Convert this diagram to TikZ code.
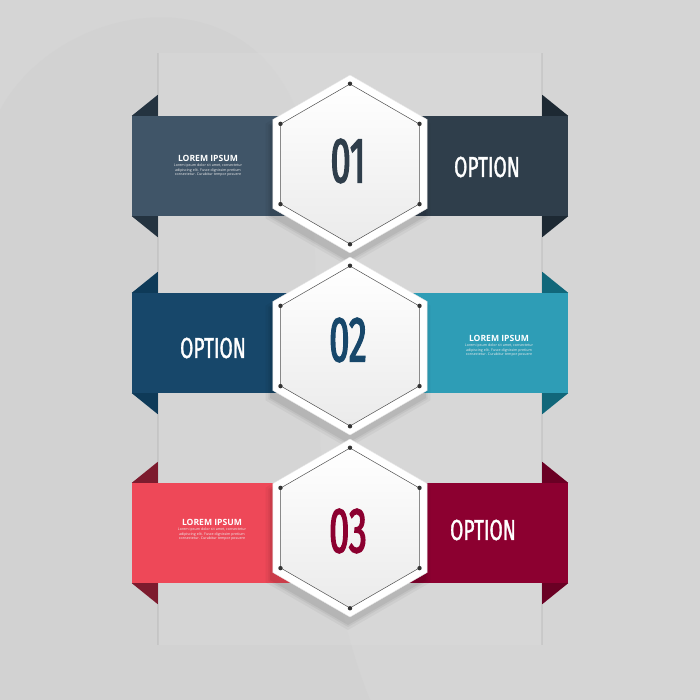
\documentclass[tikz,border=0pt]{standalone}
\usepackage{fontspec}
\setmainfont{Open Sans}
\newfontfamily\optfont[FakeStretch=0.66, FakeBold=1.2]{Fira Sans}
\newfontfamily\numfont[FakeStretch=0.56, FakeBold=2.2]{Fira Sans}
\usetikzlibrary{positioning, shapes.geometric}

% colours
\definecolor{bggray}{HTML}{D5D5D5}
\definecolor{stripgray}{HTML}{D9D9D9}
\definecolor{blobgray}{HTML}{D2D2D2}
\definecolor{slate}{HTML}{405568}
\definecolor{slatedark}{HTML}{2F3E4B}
\definecolor{slatefold}{HTML}{243340}
\definecolor{navy}{HTML}{17476A}
\definecolor{navyfold}{HTML}{0E3A58}
\definecolor{teal}{HTML}{2E9DB6}
\definecolor{tealfold}{HTML}{11677A}
\definecolor{coral}{HTML}{EE4858}
\definecolor{coralfold}{HTML}{7D1B2E}
\definecolor{crimson}{HTML}{8C0030}
\definecolor{crimsonfold}{HTML}{6A0024}
\definecolor{hexline}{HTML}{505050}

\tikzset{
  band/.style={inner sep=0pt, minimum height=100pt, minimum width=170pt},
  hexouter/.style={regular polygon, regular polygon sides=6, shape border rotate=30,
    inner sep=0pt, minimum size=178pt, fill=white, draw=white!90!black, line width=0.4pt},
  hexinner/.style={regular polygon, regular polygon sides=6, shape border rotate=30,
    inner sep=0pt, minimum size=160pt, top color=white, bottom color=white!92!black,
    draw=hexline, line width=0.5pt},
  hexshadow/.style={regular polygon, regular polygon sides=6, shape border rotate=30,
    inner sep=0pt, fill=black},
  optlabel/.style={text=white, font=\optfont\fontsize{29}{29}\selectfont},
  numlabel/.style={font=\numfont\fontsize{64}{64}\selectfont},
  loremtitle/.style={text=white, font=\bfseries\fontsize{8.6}{9}\selectfont, inner sep=0pt},
  loremtext/.style={text=white!85!gray, font=\fontsize{3.6}{4.4}\selectfont, align=center, inner sep=0pt}
}

\newcommand{\loremlines}{Lorem ipsum dolor sit amet, consectetur\\adipiscing elit. Fusce dignissim pretium\\consectetur. Curabitur tempor posuere}

\begin{document}
\begin{tikzpicture}[x=1pt, y=-1pt]
    % Background
    \useasboundingbox (0,0) rectangle (700,700);
    \fill[bggray] (0,0) rectangle (700,700);
    \fill[blobgray] (0,110) .. controls (60,0) and (250,-30) .. (300,120)
        .. controls (335,260) and (290,500) .. (370,700) -- (0,700) -- cycle;
    \fill[stripgray, opacity=0.5] (158,53) rectangle (542,645);
    \draw[black, opacity=0.06, line width=1.5pt] (158,53) -- (158,645) (542,53) -- (542,645);

    % Row 1
    \node[band, fill=slate] (band1l) at (217,166) {};
    \node[band, fill=slatedark] (band1r) at (483,166) {};
    \fill[slatefold] (band1l.north west) -- ++(26,-21) -- ++(0,21) -- cycle;
    \fill[slatefold] (band1l.south west) -- ++(26,21) -- ++(0,-21) -- cycle;
    \fill[slatefold!80!black] (band1r.north east) -- ++(-26,-21) -- ++(0,21) -- cycle;
    \fill[slatefold!80!black] (band1r.south east) -- ++(-26,21) -- ++(0,-21) -- cycle;

    % Row 2
    \node[band, fill=navy] (band2l) at (217,343) {};
    \node[band, fill=teal] (band2r) at (483,343) {};
    \fill[navyfold] (band2l.north west) -- ++(26,-21) -- ++(0,21) -- cycle;
    \fill[navyfold] (band2l.south west) -- ++(26,21) -- ++(0,-21) -- cycle;
    \fill[tealfold] (band2r.north east) -- ++(-26,-21) -- ++(0,21) -- cycle;
    \fill[tealfold] (band2r.south east) -- ++(-26,21) -- ++(0,-21) -- cycle;

    % Row 3
    \node[band, fill=coral] (band3l) at (217,533) {};
    \node[band, fill=crimson] (band3r) at (483,533) {};
    \fill[coralfold] (band3l.north west) -- ++(26,-21) -- ++(0,21) -- cycle;
    \fill[coralfold] (band3l.south west) -- ++(26,21) -- ++(0,-21) -- cycle;
    \fill[crimsonfold] (band3r.north east) -- ++(-26,-21) -- ++(0,21) -- cycle;
    \fill[crimsonfold] (band3r.south east) -- ++(-26,21) -- ++(0,-21) -- cycle;

    % Hexagons
    \foreach \i/\y in {1/164, 2/346, 3/528} {
        \foreach \s/\o in {190/0.04, 184/0.05, 180/0.06}
            \node[hexshadow, minimum size=\s pt, opacity=\o] at (348,\y+7) {};
        \node[hexouter] (hexo\i) at (350,\y) {};
        \node[hexinner] (hex\i) at (350,\y) {};
        \foreach \c in {1,...,6}
            \fill[black!80] (hex\i.corner \c) circle (2.2pt);
    }

    % Numbers
    \node[numlabel, text=slatedark] (num1) at (348,161) {01};
    \node[numlabel, text=navy] (num2) at (348,340) {02};
    \node[numlabel, text=crimson] (num3) at (348,531) {03};

    % Options
    \node[optlabel] (opt1) at (487,167) {OPTION};
    \node[optlabel] (opt2) at (213,348) {OPTION};
    \node[optlabel] (opt3) at (483,530) {OPTION};

    % Lorem ipsum blocks
    \node[loremtitle] (lorem1) at (208,158) {LOREM IPSUM};
    \node[loremtext, below=2.5pt of lorem1] (lorem1txt) {\loremlines};
    \node[loremtitle] (lorem2) at (499,338) {LOREM IPSUM};
    \node[loremtext, below=2.5pt of lorem2] (lorem2txt) {\loremlines};
    \node[loremtitle] (lorem3) at (212,522) {LOREM IPSUM};
    \node[loremtext, below=2.5pt of lorem3] (lorem3txt) {\loremlines};
\end{tikzpicture}
\end{document}
